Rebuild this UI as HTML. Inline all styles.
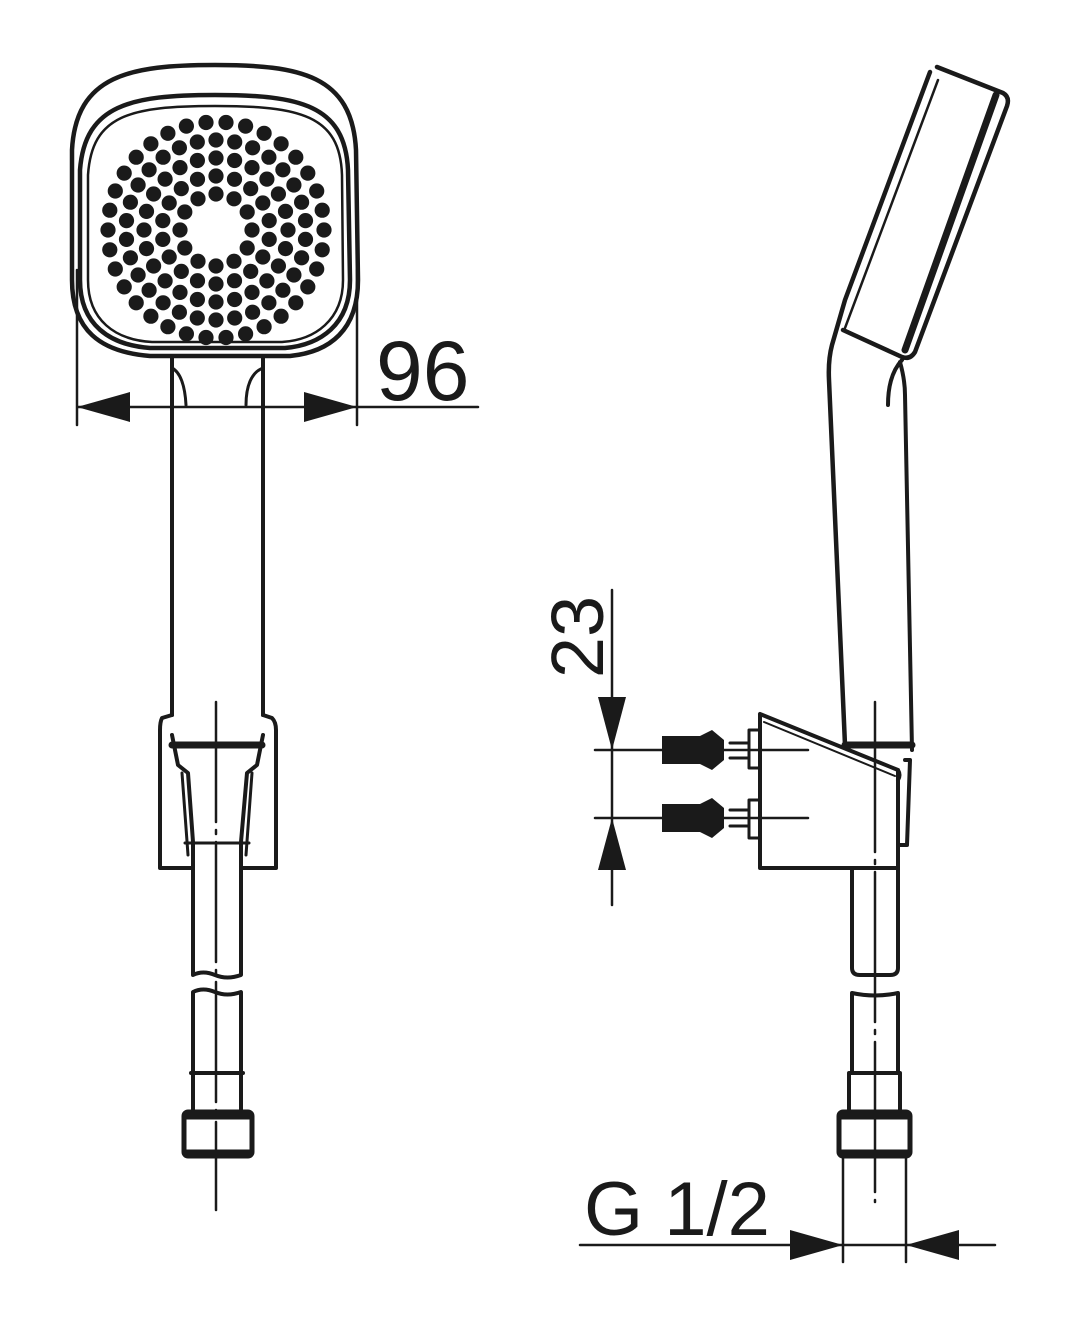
<!DOCTYPE html>
<html><head><meta charset="utf-8"><style>
html,body{margin:0;padding:0;background:#fff;}
svg{display:block;}
text{font-family:"Liberation Sans",sans-serif;fill:#1a1a1a;}
</style></head><body>
<svg width="1086" height="1332" viewBox="0 0 1086 1332" xmlns="http://www.w3.org/2000/svg">
<g fill="none" stroke="#1a1a1a" stroke-width="4" stroke-linejoin="round" stroke-linecap="round">
<!-- LEFT VIEW head -->
<path d="M215 65 C300 65 352 75 356 150 L358 280 C358 330 330 352 290 356 L150 356 C100 352 72 330 72 280 L72 150 C76 75 130 65 215 65 Z" stroke-width="4.5"/>
<path d="M215 95 C300 95 345 105 348 170 L350 280 C350 325 320 345 285 348 L150 348 C110 345 80 325 80 280 L80 170 C85 105 130 95 215 95 Z" stroke-width="4.5"/>
<path d="M215 106 C300 106 340 115 342 175 L343 280 C343 320 315 340 282 342 L152 342 C115 340 88 320 88 280 L88 175 C92 115 130 106 215 106 Z" stroke-width="2.5"/>
<!-- handle -->
<path d="M172 356 L172 715"/><path d="M263 356 L263 715"/>
<path d="M172 368 C180 372 185 385 186 405" stroke-width="3"/>
<path d="M263 368 C252 372 246 385 246 405" stroke-width="3"/>
<!-- holder -->
<path d="M172 715 L162 718 Q160 722 160 730 L160 868 L193 868"/>
<path d="M263 715 L272 718 Q276 722 276 730 L276 868 L241 868"/>
<path d="M172 745 L262 745" stroke-width="7"/>
<path d="M172 735 L178 765 L188 773 L193 842"/>
<path d="M263 735 L257 765 L247 773 L241 842"/>
<path d="M182 773 L188 855" stroke-width="3"/><path d="M252 773 L246 855" stroke-width="3"/>
<path d="M185 843 L249 843" stroke-width="3"/>
<!-- hose -->
<path d="M193 843 L193 975 Q203 970 215 975 Q227 980 241 975 L241 843"/>
<path d="M193 1110 L193 992 Q203 987 215 992 Q227 997 241 992 L241 1110"/>
<path d="M191 1073 L243 1073"/>
<rect x="184" y="1112" width="68" height="44" rx="4" stroke-width="5"/>
<path d="M186 1117 L250 1117 M186 1152 L250 1152" stroke-width="5"/>
<path d="M216 702 L216 1210" stroke-width="2.5" stroke-dasharray="120 8 4 8"/>
<!-- dim 96 -->
<path d="M77 270 L77 425 M357 270 L357 425 M77 407 L478 407" stroke-width="2.5"/>

<!-- RIGHT VIEW head -->
<path d="M937 67 L1003 93 Q1010 97 1007 106 L915 352 Q910 360 902 357 L843 330" stroke-width="4.5"/>
<path d="M930 72 L845 300 L832 345 Q828 360 829 380 L845 745" stroke-width="4.5"/>
<path d="M938 80 L845 328" stroke-width="2.5"/>
<path d="M996 95 L905 350" stroke-width="7"/>
<path d="M845 330 L903 357" stroke-width="2.5"/>
<path d="M902 360 Q888 375 888 405 M900 362 Q905 380 905 395 L912 750"/>
<path d="M845 745 L912 745" stroke-width="7"/>
<!-- holder -->
<path d="M760 714 L898 770 Q901 775 898 780 M760 714 L760 868 L898 868 L898 770"/>
<path d="M764 722 L895 776" stroke-width="2"/>
<path d="M905 760 L910 760 L907 845 L898 845"/>
<path d="M749 730 L760 730 M749 730 L749 768 L760 768 M749 800 L760 800 M749 800 L749 838 L760 838" stroke-width="3"/>
<path d="M730 743 L749 743 M730 758 L749 758 M730 810 L749 810 M730 826 L749 826" stroke-width="3"/>
<path d="M595 750 L808 750 M595 818 L808 818" stroke-width="2.5"/>
<!-- hose right -->
<path d="M852 868 L852 968 Q852 975 860 975 L890 975 Q898 975 898 968 L898 868"/>
<path d="M852 1073 L852 993 Q875 998 898 993 L898 1073"/>
<path d="M849 1073 L900 1073 L900 1110 M849 1073 L849 1110"/>
<rect x="839" y="1112" width="71" height="44" rx="4" stroke-width="5"/>
<path d="M841 1117 L908 1117 M841 1152 L908 1152" stroke-width="5"/>
<path d="M875 702 L875 1202" stroke-width="2.5" stroke-dasharray="150 8 4 8"/>
<path d="M843 1157 L843 1262 M906 1157 L906 1262 M580 1245 L995 1245" stroke-width="2.5"/>
<path d="M612 590 L612 905" stroke-width="2.5"/>
</g>
<g fill="#1a1a1a">
<path d="M662 736 L700 736 L712 730 L724 740 L724 760 L712 770 L700 764 L662 764 Z"/>
<path d="M662 804 L700 804 L712 798 L724 808 L724 828 L712 838 L700 832 L662 832 Z"/>
<path d="M77 407 L130 392 L130 422 Z"/>
<path d="M357 407 L304 392 L304 422 Z"/>
<path d="M612 750 L598 697 L626 697 Z"/>
<path d="M612 818 L598 870 L626 870 Z"/>
<path d="M843 1245 L790 1230 L790 1260 Z"/>
<path d="M906 1245 L959 1230 L959 1260 Z"/>
</g>
<g id="dots" fill="#1a1a1a"></g>
<text x="376" y="400" font-size="84">96</text>
<text x="584" y="1235" font-size="76">G 1/2</text>
<text transform="translate(603,637) rotate(-90)" text-anchor="middle" font-size="74">23</text>
</svg>
<script>
var g=document.getElementById('dots'),cx=216,cy=230,rs=[36,54,72,90,108],ns=[12,18,24,30,34],s='';
for(var i=0;i<rs.length;i++){for(var k=0;k<ns[i];k++){var a=2*Math.PI*k/ns[i]+(i%2?Math.PI/ns[i]:0);s+='<circle cx="'+(cx+rs[i]*Math.cos(a)).toFixed(1)+'" cy="'+(cy+rs[i]*Math.sin(a)).toFixed(1)+'" r="7.6"/>';}}
g.innerHTML=s;
</script>
</body></html>
